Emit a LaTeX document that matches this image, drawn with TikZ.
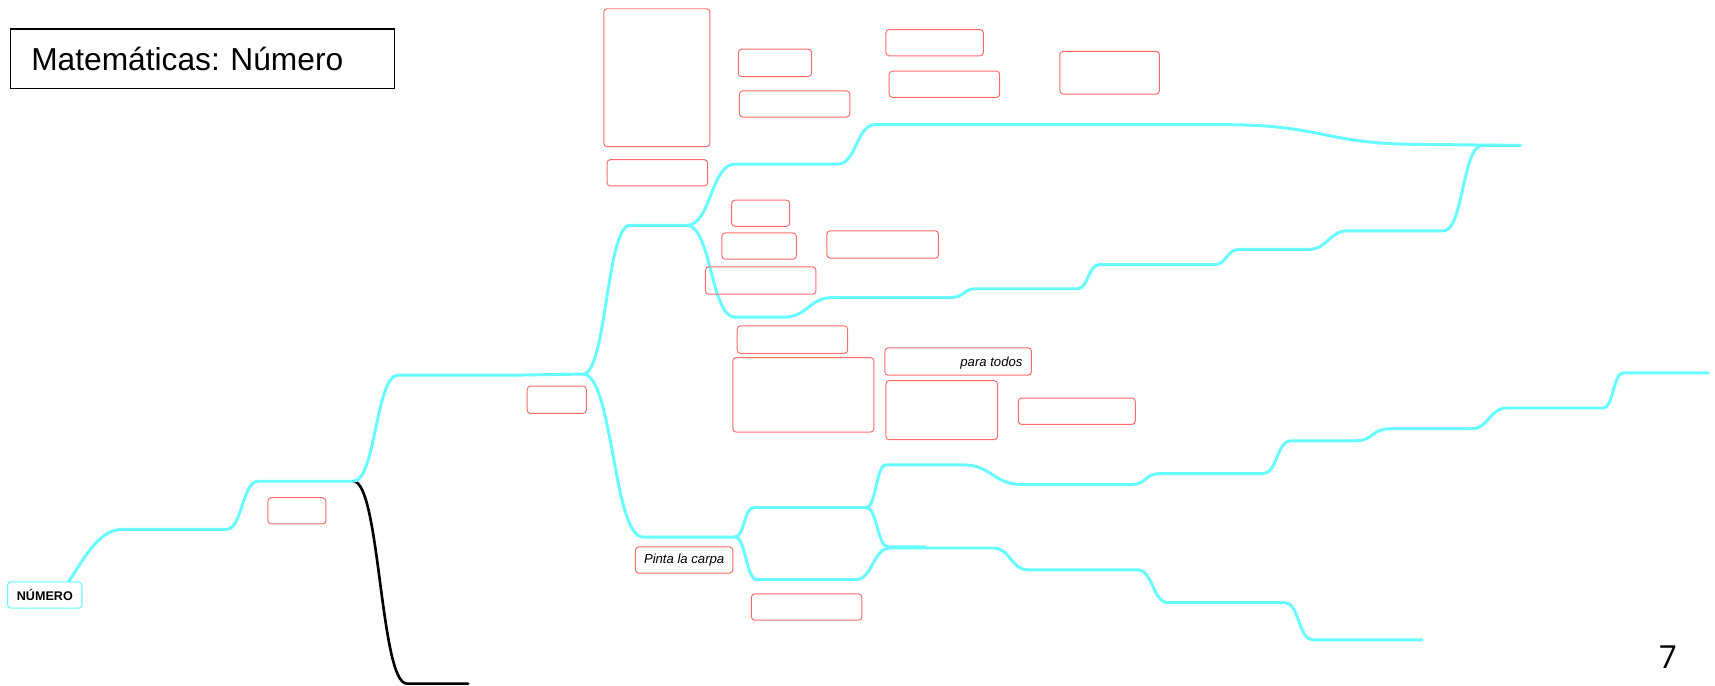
\documentclass[tikz,border=0pt]{standalone}
\usepackage{fontspec}
\setmainfont{Liberation Sans}
\newfontfamily\numfont{Open Sans}
\usetikzlibrary{calc}
\definecolor{cyanl}{HTML}{66FCFF}
\definecolor{redl}{HTML}{FF6B6B}
\frenchspacing
\newcommand\rbox[6]{\node[bx, minimum width={(#4-#2)*1pt}, minimum height={(#5-#3)*1pt}] (#1) at ({(#2+#4)/2},{(#3+#5)/2}) {#6};}
\begin{document}
\begin{tikzpicture}[x=1pt,y=-1pt,
  cy/.style={draw=cyanl, line width=2.7pt, line cap=round, line join=round},
  blk/.style={draw=black, line width=2.4pt, line cap=round},
  bx/.style={draw=redl, line width=0.9pt, rounded corners=3pt, inner sep=0pt, font=\fontsize{12}{14}\selectfont\itshape},
  sg/.style={to path={let \p1=(\tikztostart), \p2=(\tikztotarget) in .. controls ({(\x1+\x2)/2},\y1) and ({(\x1+\x2)/2},\y2) .. (\tikztotarget) \tikztonodes}}]
\useasboundingbox (0,0) rectangle (1568,627);

% title
\node[draw=black, line width=1.2pt, minimum width=351pt, minimum height=54pt, text width=313pt, inner xsep=19pt, inner ysep=0pt, align=left, anchor=north west, font=\fontsize{29}{32}\selectfont] (title) at (9,26) {\frenchspacing Matemáticas: Número};

% root
\node[draw=cyanl, line width=1pt, rounded corners=3pt, minimum width=68pt, minimum height=24pt, inner sep=0pt, font=\fontsize{11.5}{13}\selectfont\bfseries] (num) at (41,544) {NÚMERO};

% page number
\node[font=\numfont\fontsize{29}{29}\selectfont, anchor=base, inner sep=0pt] (pg) at (1525,611) {7};

% junctions and ends
\coordinate (j1) at (323,440);
\coordinate (j2) at (533,342);
\coordinate (j3) at (628,206);
\coordinate (j4) at (672,491);
\coordinate (j5) at (792,464);
\coordinate (e1) at (1390,133);
\coordinate (e2) at (1562,341);
\coordinate (e3) at (1300,585);
\coordinate (e4) at (846,500);
\coordinate (eb) at (428,625);

% connectors
\draw[cy] ([xshift=22pt]num.north) .. controls (80,505) and (92,484) .. (112,484) -- (207,484) to[sg] (236,440) -- (j1);
\draw[blk] (j1) to[sg] (372,625) -- (eb);
\draw[cy] (j1) to[sg] (364,343) -- (470,343) -- (j2);
\draw[cy] (j2) to[sg] (576,206) -- (j3);
\draw[cy] (j3) to[sg] (672,150) -- (766,150) to[sg] (800,114) -- (1120,114) to[sg] (1300,132) -- (e1);
\draw[cy] (j3) to[sg] (672,290) -- (716,290) to[sg] (762,272) -- (870,272) to[sg] (892,264) -- (985,264) to[sg] (1005,242) -- (1110,242) to[sg] (1133,228) -- (1196,228) to[sg] (1233,211) -- (1320,211) to[sg] (1355,133) -- (e1);
\draw[cy] (j2) to[sg] (588,491) -- (j4);
\draw[cy] (j4) to[sg] (689,464) -- (j5);
\draw[cy] (j5) to[sg] (810,425) -- (880,425) to[sg] (935,443) -- (1035,443) to[sg] (1060,433) -- (1155,433) to[sg] (1180,403) -- (1240,403) to[sg] (1270,392) -- (1345,392) to[sg] (1378,373) -- (1466,373) to[sg] (1484,341) -- (e2);
\draw[cy] (j5) to[sg] (812,500) -- (e4);
\draw[cy] (j4) to[sg] (692,530) -- (782,530) to[sg] (814,501) -- (908,501) to[sg] (940,521) -- (1040,521) to[sg] (1068,551) -- (1175,551) to[sg] (1200,585) -- (e3);

% red boxes
\rbox{b1}{552}{8}{649}{134}{}
\rbox{b2}{555}{146}{647}{170}{}
\rbox{b3}{675}{45}{742}{70}{}
\rbox{b4}{676}{83}{777}{107}{}
\rbox{b5}{810}{27}{899}{51}{}
\rbox{b6}{813}{65}{914}{89}{}
\rbox{b7}{969}{47}{1060}{86}{}
\rbox{b8}{669}{183}{722}{207}{}
\rbox{b9}{660}{213}{728}{237}{}
\rbox{b10}{756}{211}{858}{236}{}
\rbox{b11}{645}{244}{746}{269}{}
\rbox{b12}{674}{298}{775}{323}{}
\rbox{b13}{670}{327}{799}{395}{}
\rbox{b14}{809}{318}{943}{343}{}
\rbox{b15}{810}{348}{912}{402}{}
\rbox{b16}{931}{364}{1038}{388}{}
\rbox{b17}{482}{353}{536}{378}{}
\rbox{b18}{245}{455}{298}{479}{}
\rbox{b19}{581}{500}{670}{524}{Pinta la carpa}
\rbox{b20}{687}{543}{788}{567}{}
\node[anchor=base east, inner sep=0pt, font=\fontsize{12}{14}\selectfont\itshape] (t14) at (935,335) {para todos};
\end{tikzpicture}
\end{document}
